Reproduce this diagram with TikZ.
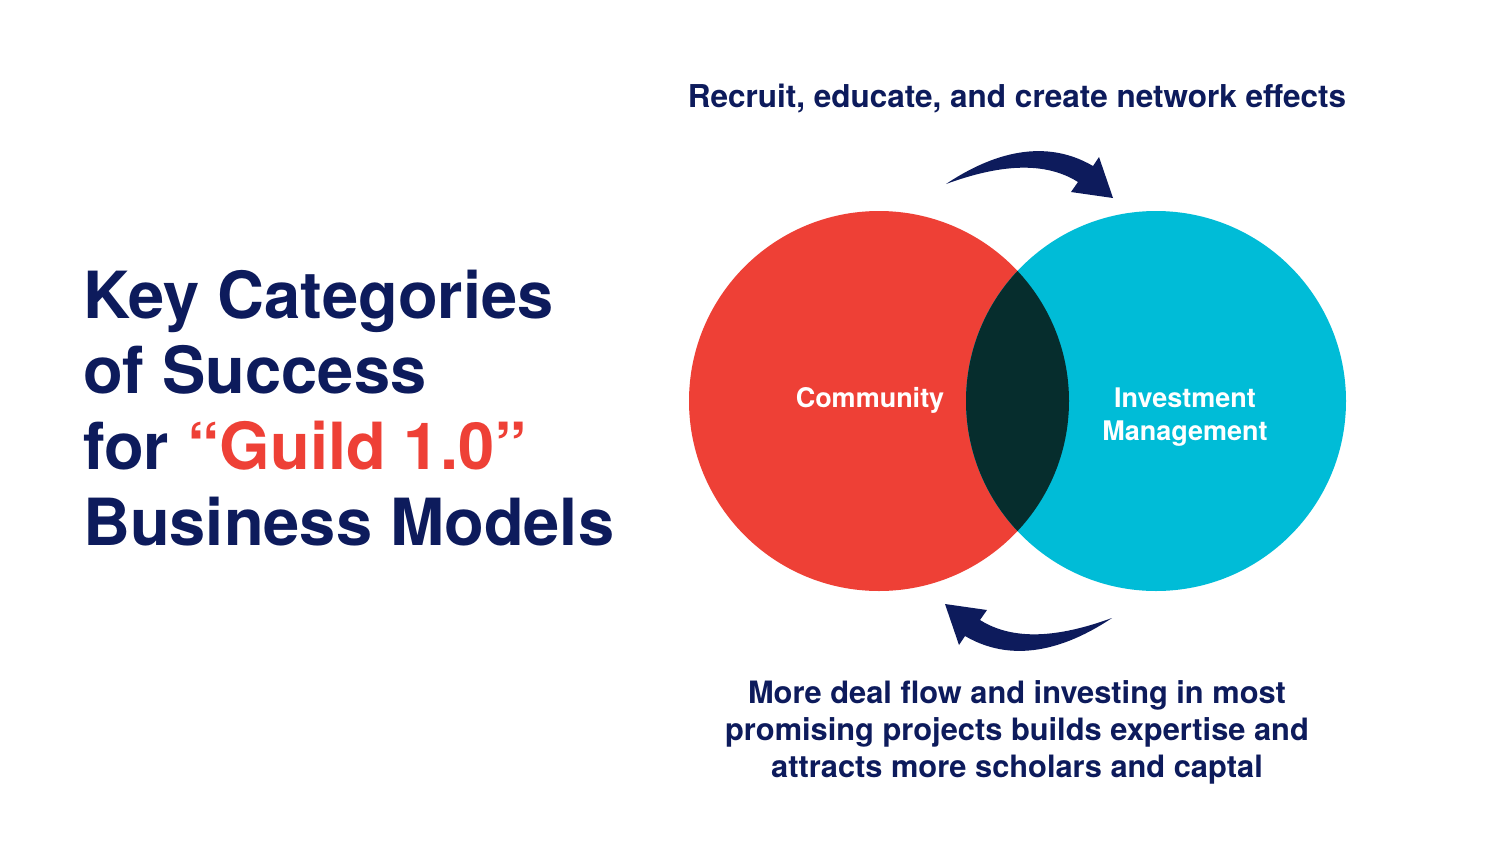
\documentclass[tikz,border=0pt]{standalone}
\usepackage{fontspec}
\setmainfont{TeX Gyre Heros}
\definecolor{navy}{HTML}{0D1B5C}
\definecolor{cred}{HTML}{EE4036}
\definecolor{ccyan}{HTML}{00BCD7}
\definecolor{clens}{HTML}{062D2D}
\tikzset{
  title/.style={anchor=base west, inner sep=0pt, text=navy, font=\fontsize{65}{75}\selectfont\bfseries},
  caption/.style={anchor=base, inner sep=0pt, text=navy, font=\fontsize{31.5}{37}\selectfont\bfseries},
  botcaption/.style={caption, font=\fontsize{30.8}{37}\selectfont\bfseries},
  label/.style={anchor=base, inner sep=0pt, text=white, font=\fontsize{27}{32}\selectfont\bfseries},
  curvearrow/.style={fill=navy, draw=none}
}
\begin{document}
\begin{tikzpicture}[x=1pt,y=-1pt]
\useasboundingbox (0,0) rectangle (1500,844);
\fill[white] (0,0) rectangle (1500,844);
% title
\node[title] (t1) at (83,318) {Key Categories};
\node[title] (t2) at (83,393) {of Success};
\node[title] (t3) at (83,469) {for \textcolor{cred}{“Guild 1.0”}};
\node[title] (t4) at (83,545) {Business Models};
% circles
\fill[cred] (879,401) circle[radius=190];
\fill[ccyan] (1156,401) circle[radius=190];
\begin{scope}
  \clip (879,401) circle[radius=190];
  \fill[clens] (1156,401) circle[radius=190];
\end{scope}
\node[label] (comm) at (870,407) {Community};
\node[label] (inv1) at (1185,407) {Investment};
\node[label] (inv2) at (1185,440) {Management};
% captions
\node[caption] (top) at (1017,107) {Recruit, educate, and create network effects};
\node[botcaption] (b1) at (1017,703) {More deal flow and investing in most};
\node[botcaption] (b2) at (1017,740) {promising projects builds expertise and};
\node[botcaption] (b3) at (1017,777) {attracts more scholars and captal};
% arrows
\newcommand{\arrowshape}{(946,184) .. controls (985,158) and (1040,135) .. (1093,166) -- (1099,157) -- (1113,198) -- (1071,192) -- (1078,182) .. controls (1040,158) and (990,168) .. (946,184) -- cycle}
\fill[curvearrow] \arrowshape;
\begin{scope}[rotate around={180:(1029,401)}]
  \fill[curvearrow] \arrowshape;
\end{scope}
\end{tikzpicture}
\end{document}
